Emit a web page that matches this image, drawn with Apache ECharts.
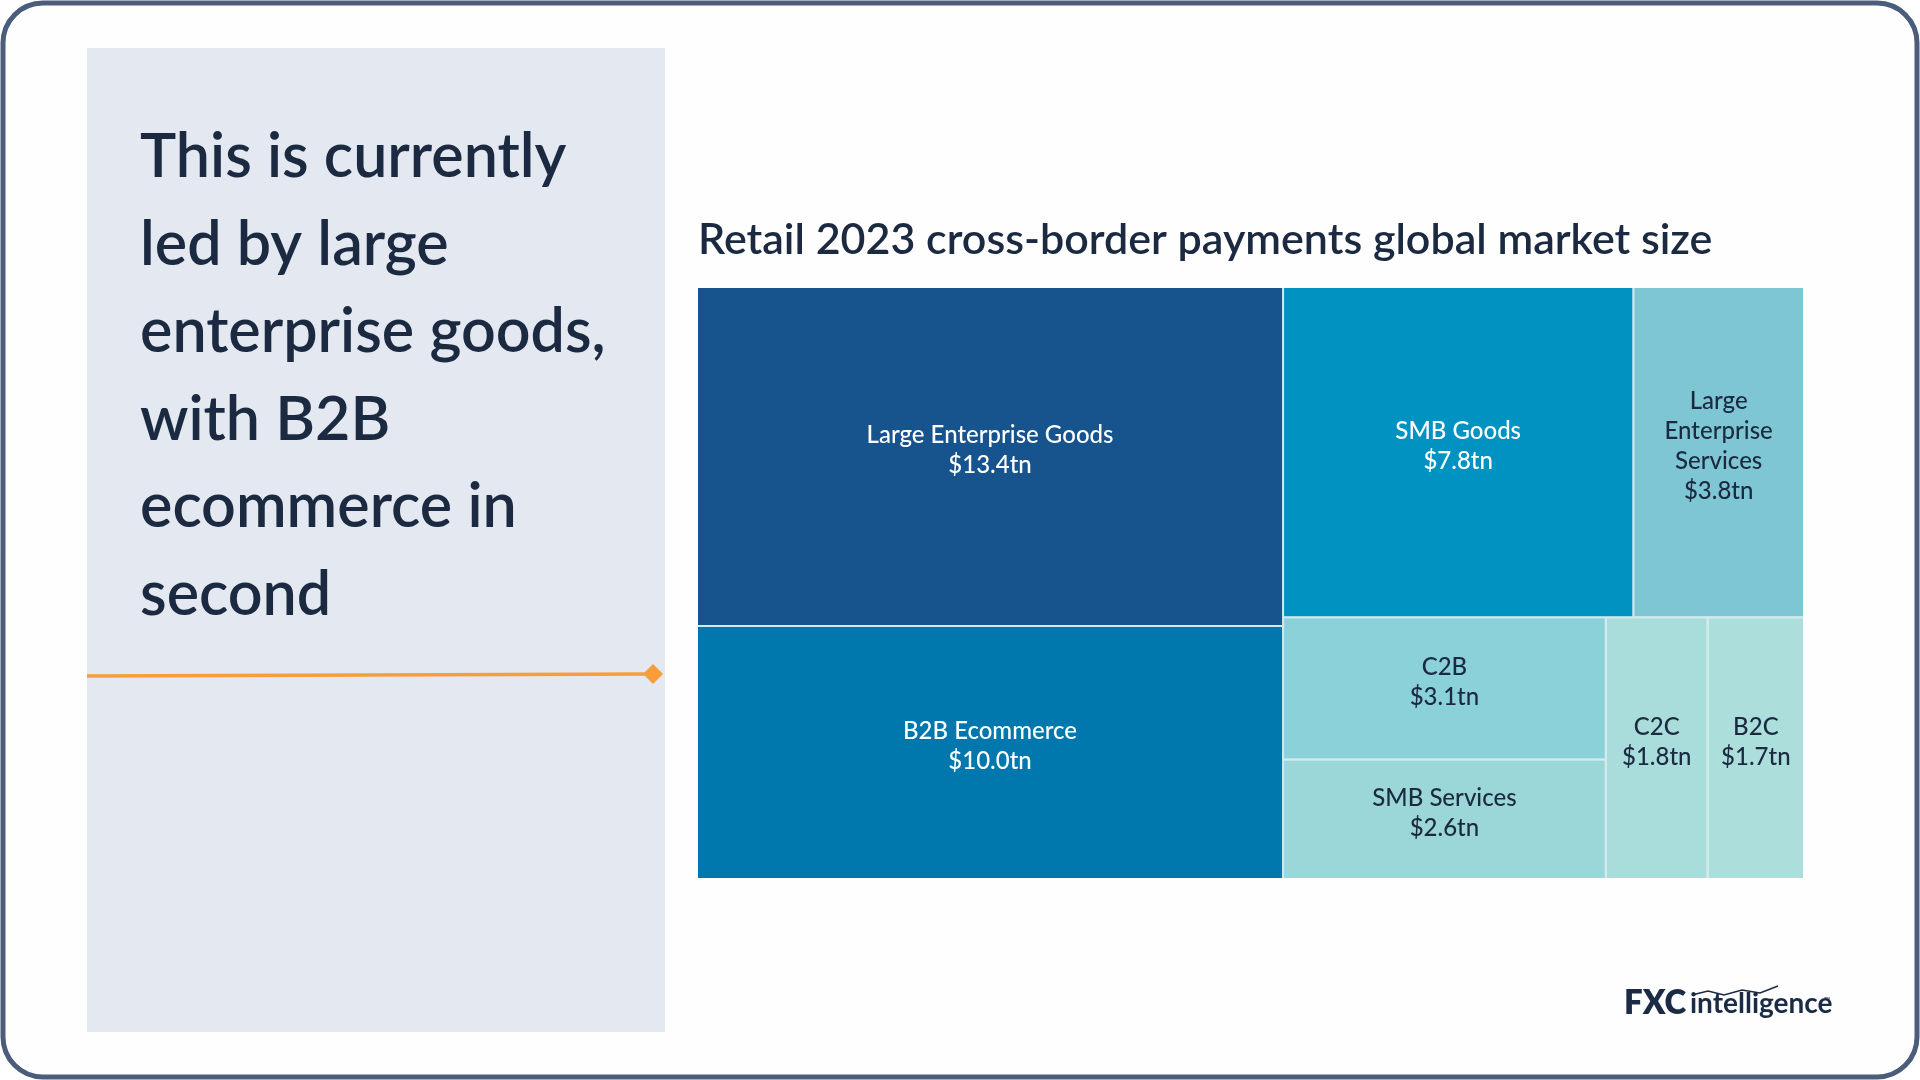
<!DOCTYPE html>
<html>
<head>
<meta charset="utf-8">
<title>Retail 2023 cross-border payments global market size</title>
<script src="https://cdn.jsdelivr.net/npm/echarts@6/dist/echarts.min.js"></script>
<style>
  html, body { margin: 0; padding: 0; background: #fff; }
  #chart { width: 1920px; height: 1080px; }
</style>
</head>
<body>
<div id="chart"></div>
<script>
// Retail cross-border payments, 2023 ($tn)
var categories = [
    'Large Enterprise Goods', 'B2B Ecommerce', 'SMB Goods', 'Large Enterprise Services',
    'C2B', 'SMB Services', 'C2C', 'B2C'
];
var values = [13.4, 10.0, 7.8, 3.8, 3.1, 2.6, 1.8, 1.7];
var colors = ['#17548e', '#0077ad', '#0092c1', '#7ec6d4', '#8ad1d9', '#9bd7d8', '#a8dddb', '#acdfdc'];
var labelColors = ['#ffffff', '#ffffff', '#ffffff', '#1b2a41', '#1b2a41', '#1b2a41', '#1b2a41', '#1b2a41'];

var headline = ['This is currently', 'led by large', 'enterprise goods,', 'with B2B', 'ecommerce in', 'second'];
var chartTitle = 'Retail 2023 cross-border payments global market size';

(function() {
    'use strict';

    var chart = echarts.init(document.getElementById('chart'));
    var font = 'Lato, "Open Sans", sans-serif';
    var navy = '#1b2a41';

    var data = categories.map(function(name, i) {
        return {
            name: name,
            value: values[i],
            itemStyle: { color: colors[i] },
            label: { color: labelColors[i] }
        };
    });

    var graphics = [
        // outer frame
        { type: 'rect', z: 0, shape: { x: 3, y: 3, width: 1914, height: 1074, r: 40 },
          style: { fill: '#fefefe', stroke: '#4b5d7a', lineWidth: 5 } },
        // left panel
        { type: 'rect', z: 1, shape: { x: 87, y: 48, width: 578, height: 984 },
          style: { fill: '#e3e8f1' } },
        // orange rule
        { type: 'line', z: 2, shape: { x1: 87, y1: 676, x2: 650, y2: 674 },
          style: { stroke: '#f99d3a', lineWidth: 3.5 } },
        { type: 'polygon', z: 2, shape: { points: [[643, 674], [653, 664], [663, 674], [653, 684]] },
          style: { fill: '#f99d3a' } },
        // title
        { type: 'text', z: 3, left: 698, top: 219,
          style: { text: chartTitle, font: '600 43px ' + font, fill: navy } },
        // logo
        { type: 'text', z: 3, left: 1624, top: 987,
          style: { text: 'FXC', font: '800 33px ' + font, fill: '#1c2b45' } },
        { type: 'text', z: 3, left: 1690, top: 990,
          style: { text: 'intelligence', font: '700 28px ' + font, fill: '#1c2b45' } },
        { type: 'text', z: 3, left: 1824, top: 996,
          style: { text: '\u2122', font: '400 8px ' + font, fill: '#1c2b45' } },
        { type: 'polyline', z: 3, shape: { points: [[1692, 995], [1708, 991], [1724, 995], [1742, 990], [1760, 993], [1778, 986]] },
          style: { stroke: '#1c2b45', lineWidth: 1.5 } }
    ];

    headline.forEach(function(line, i) {
        graphics.push({
            type: 'text', z: 3, left: 140, top: 127 + i * 87.5,
            style: { text: line, font: '600 61px ' + font, fill: navy }
        });
    });

    chart.setOption({
        animation: false,
        textStyle: { fontFamily: font },
        graphic: graphics,
        series: [{
            type: 'treemap',
            left: 698, top: 288, width: 1105, height: 590,
            roam: false,
            nodeClick: false,
            breadcrumb: { show: false },
            z: 5,
            label: {
                show: true,
                position: 'inside',
                align: 'center',
                verticalAlign: 'middle',
                fontSize: 24,
                lineHeight: 30,
                fontFamily: font,
                fontWeight: 500,
                overflow: 'none',
                offset: [0, -6],
                formatter: function(p) {
                    var name = p.name === 'Large Enterprise Services' ? p.name.split(' ').join('\n') : p.name;
                    return name + '\n$' + p.value.toFixed(1) + 'tn';
                }
            },
            itemStyle: { borderWidth: 0, gapWidth: 0 },
            levels: [
                { itemStyle: { borderWidth: 0, gapWidth: 2, borderColor: '#d4e9ee' } }
            ],
            emphasis: { disabled: true },
            data: data
        }]
    });

    window.addEventListener('resize', function() {
        try { chart.resize(); } catch (e) {}
    });
})();
</script>
</body>
</html>
